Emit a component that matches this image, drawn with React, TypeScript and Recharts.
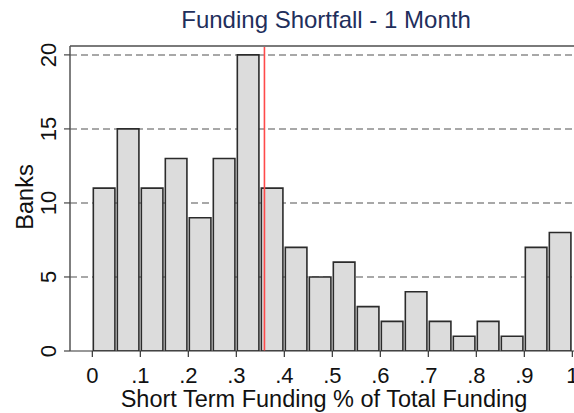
import React from 'react';
import { ComposedChart, Bar, XAxis, YAxis, CartesianGrid, ReferenceLine, Customized } from 'recharts';

const binCenters = [0.025, 0.075, 0.125, 0.175, 0.225, 0.275, 0.325, 0.375, 0.425, 0.475, 0.525, 0.575, 0.625, 0.675, 0.725, 0.775, 0.825, 0.875, 0.925, 0.975];
const banks = [11, 15, 11, 13, 9, 13, 20, 11, 7, 5, 6, 3, 2, 4, 2, 1, 2, 1, 7, 8];
const xTicks = [0, 0.1, 0.2, 0.3, 0.4, 0.5, 0.6, 0.7, 0.8, 0.9, 1];
const yTicks = [0, 5, 10, 15, 20];
const thresholdValue = 0.3586;
const titleText = 'Funding Shortfall - 1 Month';
const xLabelText = 'Short Term Funding % of Total Funding';
const yLabelText = 'Banks';

const data = binCenters.map((c, i) => ({ x: c, banks: banks[i] }));

const FONT = '"Liberation Sans", Arial, sans-serif';

const fmtX = (v: number) => (v === 0 ? '0' : v === 1 ? '1' : String(v).replace(/^0/, ''));

const YTick = (props: any) => {
  const { x, y, payload } = props;
  const bx = 56;
  return (
    <text
      x={bx}
      y={y}
      transform={`rotate(-90 ${bx} ${y})`}
      textAnchor="middle"
      fontSize={22}
      fontFamily={FONT}
      fill="#111"
    >
      {payload.value}
    </text>
  );
};

const XTick = (props: any) => {
  const { x, y, payload } = props;
  return (
    <text x={x} y={383} textAnchor="middle" fontSize={22} fontFamily={FONT} fill="#111">
      {fmtX(payload.value)}
    </text>
  );
};

const Labels = () => (
  <g>
    <text x={326} y={28} textAnchor="middle" fontSize={24} fontFamily={FONT} fill="#1f2f5c">
      {titleText}
    </text>
    <text x={324} y={407} textAnchor="middle" fontSize={23.5} fontFamily={FONT} fill="#111">
      {xLabelText}
    </text>
    <text
      x={33}
      y={197}
      transform="rotate(-90 33 197)"
      textAnchor="middle"
      fontSize={23.5}
      fontFamily={FONT}
      fill="#111"
    >
      {yLabelText}
    </text>
  </g>
);

export default function App() {
  return (
    <div style={{ position: 'absolute', left: 0, top: 0, background: '#fff' }}>
      <ComposedChart
        width={574}
        height={413}
        data={data}
        margin={{ top: 16, right: 0, bottom: 0, left: 0 }}
      >
        <CartesianGrid
          horizontal={true}
          vertical={false}
          stroke="#8c8c8c"
          strokeWidth={1.5}
          strokeDasharray="7 4"
          horizontalValues={[5, 10, 15, 20]}
        />
        <XAxis
          xAxisId="top"
          orientation="top"
          type="number"
          domain={[-0.0465, 1.0035]}
          height={30}
          tick={false}
          tickLine={false}
          axisLine={{ stroke: '#7a7a7a', strokeWidth: 2 }}
        />
        <XAxis
          dataKey="x"
          type="number"
          domain={[-0.0465, 1.0035]}
          ticks={xTicks}
          height={62}
          tick={<XTick />}
          tickSize={6}
          tickLine={{ stroke: '#333', strokeWidth: 1.2 }}
          axisLine={{ stroke: '#333', strokeWidth: 1.2 }}
          allowDataOverflow
          interval={0}
        />
        <YAxis
          type="number"
          domain={[0, 20.6]}
          ticks={yTicks}
          width={70}
          tick={<YTick />}
          tickSize={6}
          tickLine={{ stroke: '#444', strokeWidth: 1.2 }}
          axisLine={{ stroke: '#555', strokeWidth: 1.5 }}
          allowDataOverflow
          interval={0}
        />
        <Bar
          dataKey="banks"
          barSize={24}
          fill="#dcdcdc"
          stroke="#2b2b2b"
          strokeWidth={1.6}
          isAnimationActive={false}
        />
        <ReferenceLine x={thresholdValue} stroke="#ff4a4a" strokeWidth={1.6} />
        <Customized component={Labels} />
      </ComposedChart>
    </div>
  );
}
